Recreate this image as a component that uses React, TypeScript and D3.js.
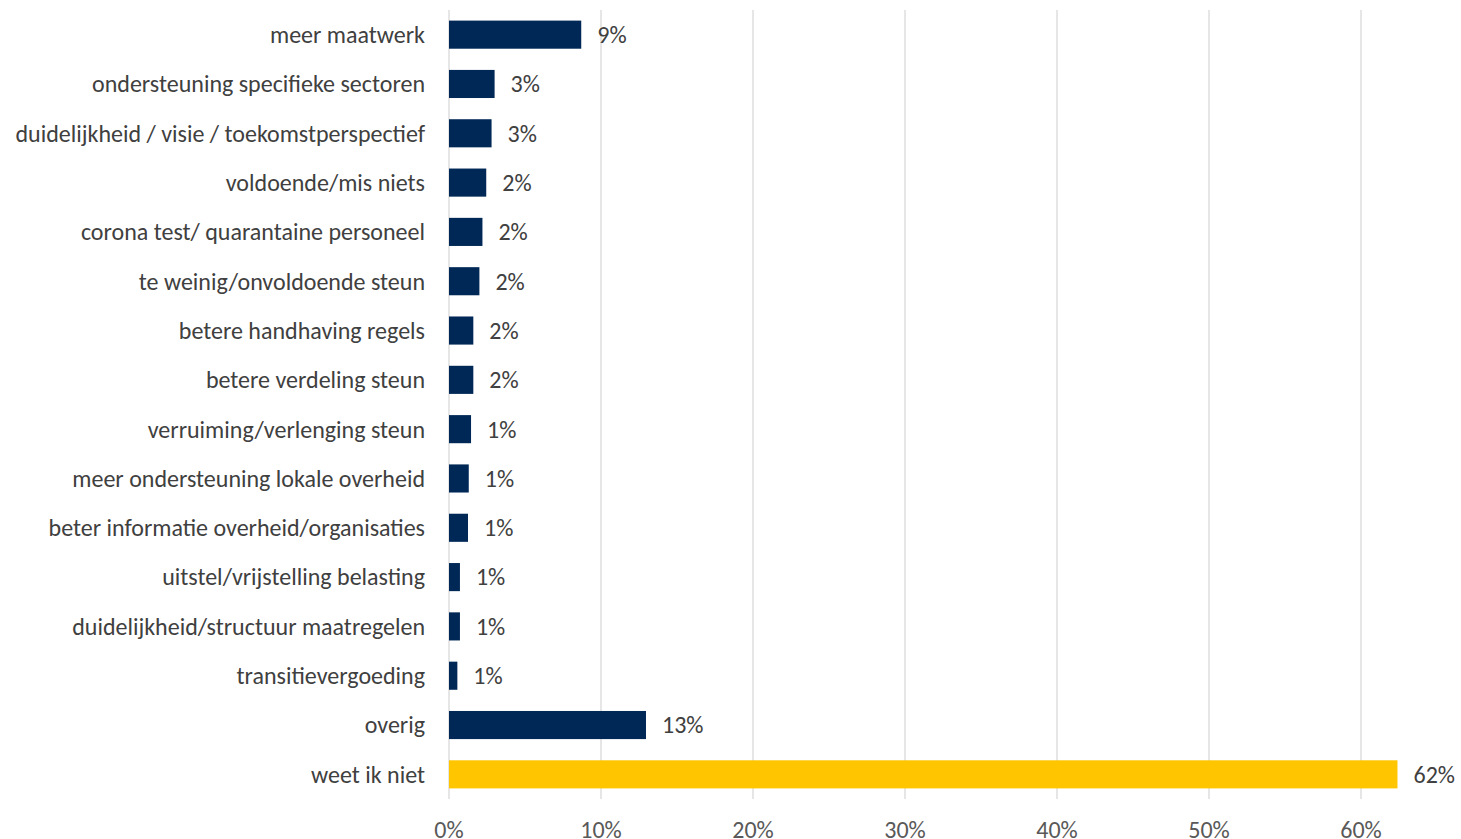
import React, {useEffect, useRef} from "react";
import * as d3 from "d3";

const categories = [
    "meer maatwerk",
    "ondersteuning specifieke sectoren",
    "duidelijkheid / visie / toekomstperspectief",
    "voldoende/mis niets",
    "corona test/ quarantaine personeel",
    "te weinig/onvoldoende steun",
    "betere handhaving regels",
    "betere verdeling steun",
    "verruiming/verlenging steun",
    "meer ondersteuning lokale overheid",
    "beter informatie overheid/organisaties",
    "uitstel/vrijstelling belasting",
    "duidelijkheid/structuur maatregelen",
    "transitievergoeding",
    "overig",
    "weet ik niet",
];

const values = [8.7, 3.0, 2.8, 2.45, 2.2, 2.0, 1.6, 1.6, 1.45, 1.3, 1.25, 0.72, 0.72, 0.55, 12.96, 62.4];

const ticks = [0, 10, 20, 30, 40, 50, 60];

const highlight = "weet ik niet";

const App: React.FC = () => {
    const svgRef = useRef<SVGSVGElement | null>(null);

    useEffect(() => {
        if (!svgRef.current) return;
        const svg = d3.select(svgRef.current);
        svg.selectAll("*").remove();

        const left = 449;
        const top = 10;
        const bottom = 799;

        const x = d3.scaleLinear().domain([0, 10]).range([left, 601]);

        const y = d3
            .scaleBand()
            .domain(categories)
            .range([top, bottom])
            .paddingInner(0.43)
            .paddingOuter(0.215);

        const font = "Calibri, Carlito, sans-serif";

        // gridlines
        svg.append("g")
            .selectAll("line")
            .data(ticks)
            .join("line")
            .attr("x1", (d) => x(d))
            .attr("x2", (d) => x(d))
            .attr("y1", top)
            .attr("y2", bottom)
            .attr("stroke", "#d9d9d9")
            .attr("stroke-width", 1.3);

        // tick labels
        svg.append("g")
            .selectAll("text")
            .data(ticks)
            .join("text")
            .attr("x", (d) => x(d))
            .attr("y", 838)
            .attr("text-anchor", "middle")
            .attr("font-family", font)
            .attr("font-size", "24px")
            .attr("fill", "#595959")
            .text((d) => `${d}%`);

        const data = categories.map((c, i) => ({cat: c, value: values[i]}));

        svg.append("g")
            .selectAll("rect")
            .data(data)
            .join("rect")
            .attr("x", x(0))
            .attr("y", (d) => y(d.cat) || 0)
            .attr("width", (d) => x(d.value) - x(0))
            .attr("height", y.bandwidth())
            .attr("fill", (d) => (d.cat === highlight ? "#ffc600" : "#002856"));

        // value labels
        svg.append("g")
            .selectAll("text")
            .data(data)
            .join("text")
            .attr("x", (d) => x(d.value) + 16)
            .attr("y", (d) => (y(d.cat) || 0) + y.bandwidth() / 2)
            .attr("dy", "0.35em")
            .attr("font-family", font)
            .attr("font-size", "24px")
            .attr("fill", "#404040")
            .text((d) => `${Math.round(d.value)}%`);

        // category labels
        svg.append("g")
            .selectAll("text")
            .data(categories)
            .join("text")
            .attr("x", 425)
            .attr("y", (d) => (y(d) || 0) + y.bandwidth() / 2)
            .attr("dy", "0.35em")
            .attr("text-anchor", "end")
            .attr("font-family", font)
            .attr("font-size", "24px")
            .attr("fill", "#404040")
            .text((d) => d);
    }, []);

    return (
        <svg
            ref={svgRef}
            width={1461}
            height={839}
            style={{position: "fixed", left: 0, top: 0, background: "#fff"}}
        ></svg>
    );
};

export default App;
